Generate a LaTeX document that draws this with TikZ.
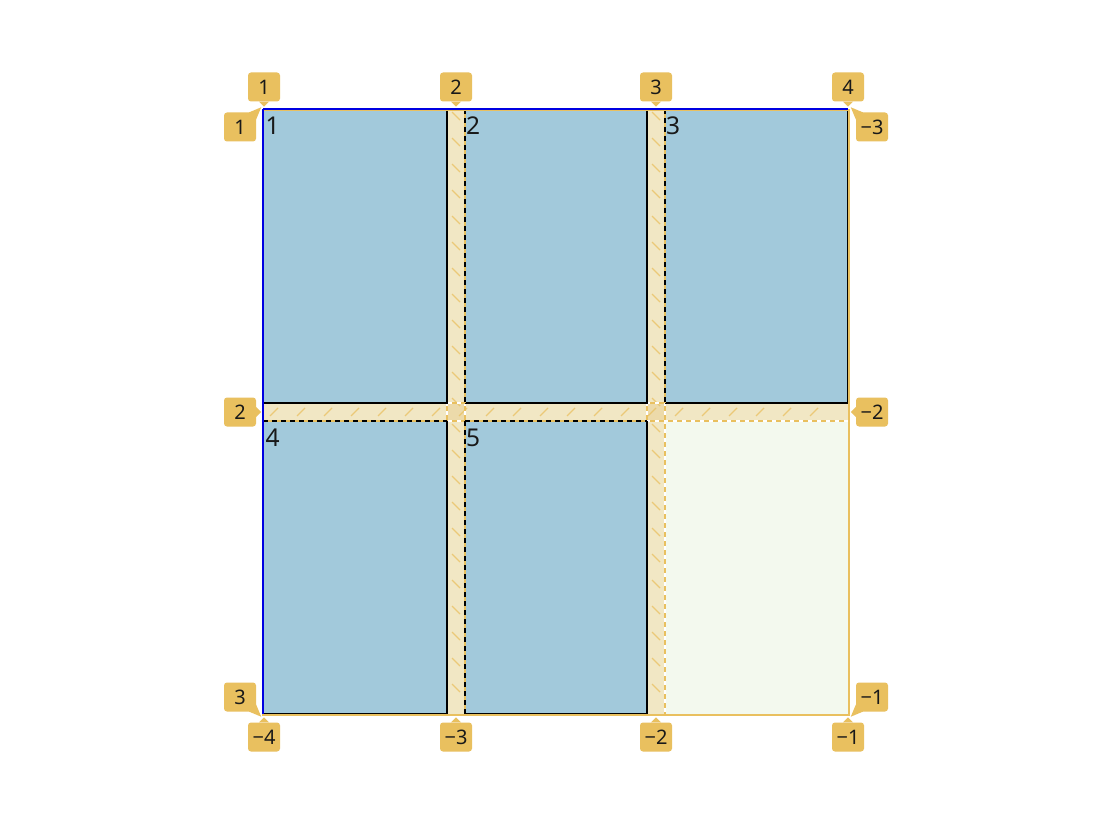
\documentclass[tikz,border=0pt]{standalone}
\usepackage{fontspec}
\setmainfont{Noto Sans}
\definecolor{itemc}{RGB}{162,201,219}
\definecolor{labc}{RGB}{233,192,95}
\definecolor{gapc}{RGB}{241,231,196}
\definecolor{crossc}{RGB}{236,218,170}
\definecolor{emptyc}{RGB}{243,249,238}
\definecolor{bluec}{RGB}{0,0,225}
\definecolor{txt}{RGB}{25,25,25}
\begin{document}
\begin{tikzpicture}[x=1pt,y=-1pt,
  lab/.style={fill=labc, rounded corners=3pt, minimum width=32pt, minimum height=29pt, inner sep=0pt, text=txt, font=\fontsize{20}{22}\selectfont},
  ptr/.style={fill=labc},
  itemnum/.style={anchor=base west, inner sep=0pt, text=txt, font=\fontsize{24.5}{26}\selectfont},
  hatch/.style={draw=labc, line width=1.4pt, opacity=0.75},
  gline/.style={draw=labc, line width=1.5pt, dash pattern=on 5pt off 4pt},
  gbase/.style={draw=white, line width=1.5pt},
  iedge/.style={draw=black, line width=1.5pt},
  iunder/.style={draw=labc, line width=1.5pt},
  idash/.style={draw=black, line width=1.5pt, dash pattern=on 5pt off 4pt},
]
\useasboundingbox (0,0) rectangle (1096,824);
\fill[white] (0,0) rectangle (1096,824);
% empty cell
\fill[emptyc] (665,421) rectangle (849,715);
% gaps
\fill[gapc] (447,109) rectangle (465,715);
\fill[gapc] (647,109) rectangle (665,715);
\fill[gapc] (263,403) rectangle (849,421);
\fill[crossc] (447,403) rectangle (465,421);
\fill[crossc] (647,403) rectangle (665,421);
% hatches
\foreach \y in {112,138,...,700} {
  \draw[hatch] (452,\y) -- (460,\y+8);
  \draw[hatch] (652,\y) -- (660,\y+8);
}
\foreach \x in {270,297,...,835} {
  \draw[hatch] (\x,416) -- (\x+8,408);
}
% item fills
\fill[itemc] (263,109) rectangle (447,403);
\fill[itemc] (465,109) rectangle (647,403);
\fill[itemc] (665,109) rectangle (848,403);
\fill[itemc] (263,421) rectangle (447,714);
\fill[itemc] (465,421) rectangle (647,714);
% grid lines
\foreach \x in {447,465,647,665} {
  \draw[gbase] (\x,109) -- (\x,715);
  \draw[gline] (\x,109) -- (\x,715);
}
\foreach \y in {403,421} {
  \draw[gbase] (263,\y) -- (849,\y);
  \draw[gline] (263,\y) -- (849,\y);
}
% item borders
\draw[iedge] (263,403) -- (447,403) -- (447,109);
\draw[iedge] (465,403) -- (647,403) -- (647,109);
\draw[iedge] (665,403) -- (848,403) -- (848,109);
\draw[iedge] (263,714) -- (447,714) -- (447,421);
\draw[iedge] (465,714) -- (647,714) -- (647,421);
\foreach \a/\b in {{465,109}/{465,403},{665,109}/{665,403},{263,421}/{447,421},{465,421}/{647,421},{465,421}/{465,714}} {
  \draw[iunder] (\a) -- (\b);
  \draw[idash] (\a) -- (\b);
}
% container
\draw[labc, line width=1.5pt] (263,110) rectangle (849,715);
\draw[bluec, line width=2pt] (263,109) -- (848,109);
\draw[bluec, line width=2pt] (263,109) -- (263,714);
% item numbers
\node[itemnum] (n1) at (265.5,135) {1};
\node[itemnum] (n2) at (466,135) {2};
\node[itemnum] (n3) at (666,135) {3};
\node[itemnum] (n4) at (265.5,446) {4};
\node[itemnum] (n5) at (466,446) {5};
% top labels
\foreach \nm/\x/\t in {t1/264/1,t2/456/2,t3/656/3,t4/848/4} {
  \node[lab] (\nm) at (\x,87) {\t};
  \fill[ptr] ([xshift=-5pt]\nm.south) -- ([xshift=5pt]\nm.south) -- ([yshift=-5pt]\nm.south) -- cycle;
}
% bottom labels
\foreach \nm/\x/\t in {b1/264/−4,b2/456/−3,b3/656/−2,b4/848/−1} {
  \node[lab] (\nm) at (\x,737) {\t};
  \fill[ptr] ([xshift=-5pt]\nm.north) -- ([xshift=5pt]\nm.north) -- ([yshift=5pt]\nm.north) -- cycle;
}
% left labels
\node[lab] (l1) at (240,127) {1};
\fill[ptr] ([xshift=-7pt]l1.north east) -- ([xshift=5pt,yshift=5pt]l1.north east) -- ([yshift=-7pt]l1.north east) -- ([xshift=-7pt,yshift=-7pt]l1.north east) -- cycle;
\node[lab] (l2) at (240,412) {2};
\fill[ptr] ([yshift=5pt]l2.east) -- ([yshift=-5pt]l2.east) -- ([xshift=5pt]l2.east) -- cycle;
\node[lab] (l3) at (240,697) {3};
\fill[ptr] ([xshift=-7pt]l3.south east) -- ([xshift=5pt,yshift=-5pt]l3.south east) -- ([yshift=7pt]l3.south east) -- ([xshift=-7pt,yshift=7pt]l3.south east) -- cycle;
% right labels
\node[lab] (r1) at (872,127) {−3};
\fill[ptr] ([xshift=7pt]r1.north west) -- ([xshift=-5pt,yshift=5pt]r1.north west) -- ([yshift=-7pt]r1.north west) -- ([xshift=7pt,yshift=-7pt]r1.north west) -- cycle;
\node[lab] (r2) at (872,412) {−2};
\fill[ptr] ([yshift=5pt]r2.west) -- ([yshift=-5pt]r2.west) -- ([xshift=-5pt]r2.west) -- cycle;
\node[lab] (r3) at (872,697) {−1};
\fill[ptr] ([xshift=7pt]r3.south west) -- ([xshift=-5pt,yshift=-5pt]r3.south west) -- ([yshift=7pt]r3.south west) -- ([xshift=7pt,yshift=7pt]r3.south west) -- cycle;
\end{tikzpicture}
\end{document}
